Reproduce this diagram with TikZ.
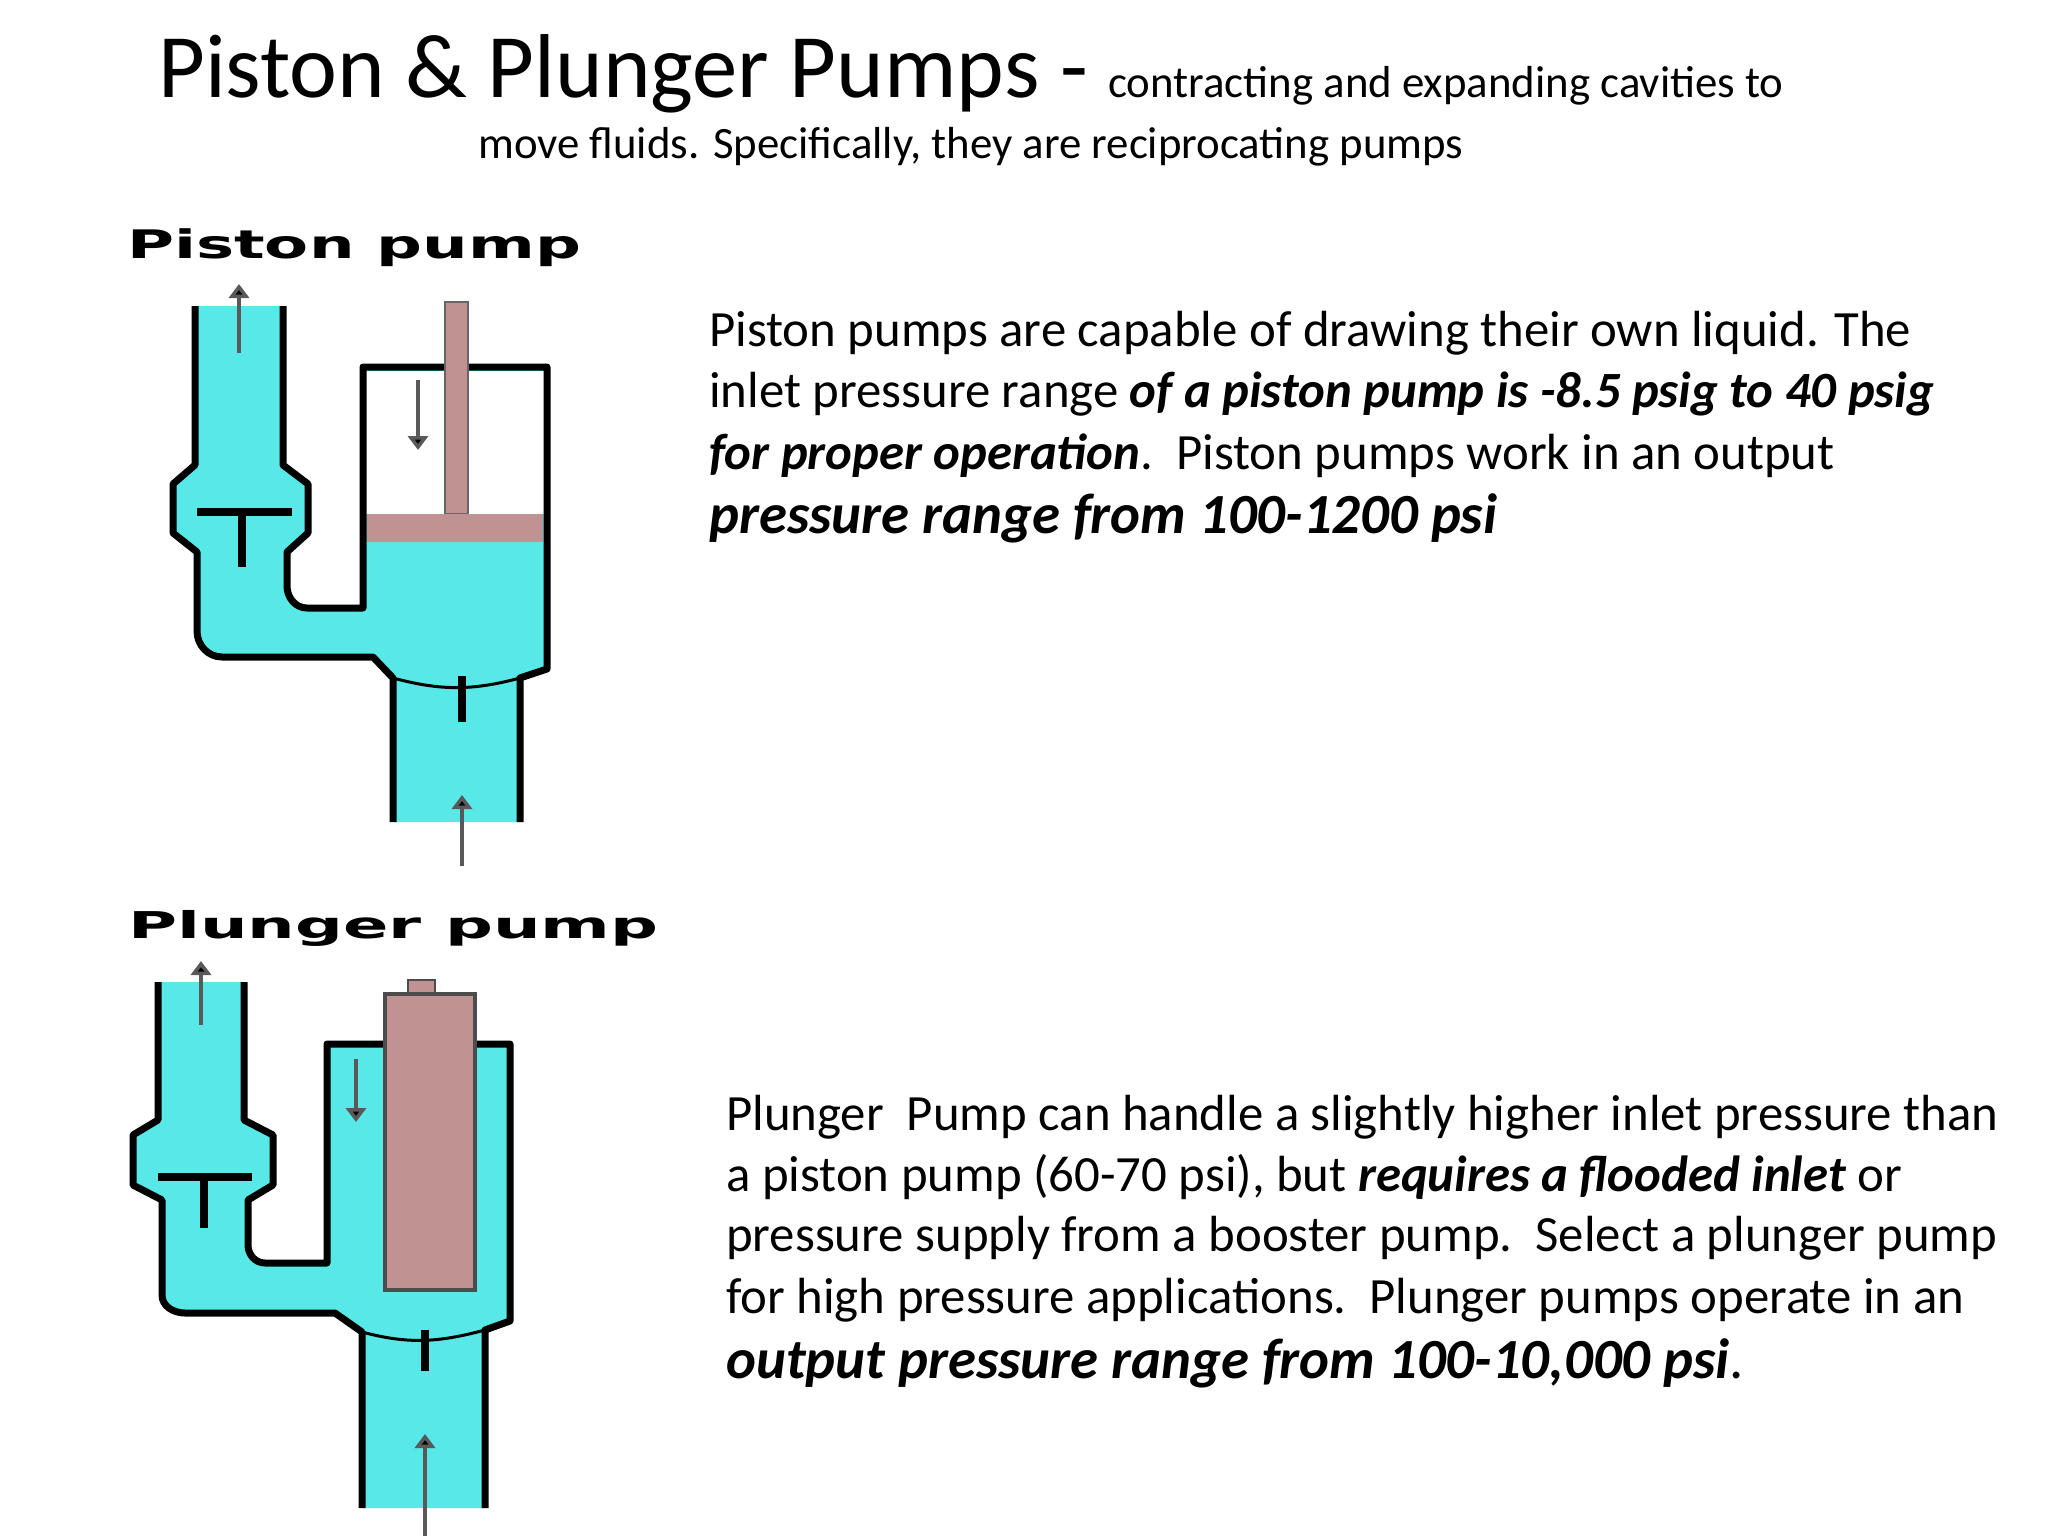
\documentclass[tikz,border=0pt]{standalone}
\usepackage{fontspec}
\setmainfont{Carlito}
\newfontfamily\lblfont{DejaVu Sans}
\usetikzlibrary{arrows.meta}
\definecolor{fluid}{RGB}{88,232,232}
\definecolor{rodc}{RGB}{192,146,146}
\tikzset{
  wall/.style={line width=7bp,line join=round,black},
  valve/.style={line width=8bp,black},
  flow/.style={line width=3.5bp,draw=black!65,-{Triangle[length=14bp,width=20bp,fill=black]}},
  txt/.style={anchor=base west,inner sep=0pt},
  pumplbl/.style={anchor=north west,inner sep=0pt}
}
\begin{document}
\begin{tikzpicture}[x=1bp,y=-1bp]
\useasboundingbox (0,0) rectangle (2048,1536);
% ---------- titles
\node[txt] (t1) at (158,98) {\fontsize{91}{100}\selectfont Piston \& Plunger Pumps - \fontsize{45}{52}\selectfont contracting and expanding cavities to};
\node[txt] (t2) at (478,159) {\fontsize{45}{52}\selectfont move fluids. Specifically, they are reciprocating pumps};
% ---------- piston pump
\node[pumplbl] (l1) at (127,228) {\resizebox*{454bp}{38bp}{\lblfont\bfseries Piston pump}};
\fill[fluid] (195,306) -- (195,465) -- (173,484) -- (173,533) -- (197,552) -- (197,631)
  to[out=-90,in=180] (222,657) -- (373,657) -- (393,678) -- (393,822) -- (520,822) -- (520,678)
  -- (547,669) -- (547,367) -- (363,367) -- (363,608) -- (307,608) to[out=180,in=-90] (287,586)
  -- (287,552) -- (308,533) -- (308,484) -- (283,465) -- (283,306) -- cycle;
\fill[white] (366,371) rectangle (544,514);
\draw[wall] (195,306) -- (195,465) -- (173,484) -- (173,533) -- (197,552) -- (197,631)
  to[out=-90,in=180] (222,657) -- (373,657) -- (393,678) -- (393,822);
\draw[wall] (283,306) -- (283,465) -- (308,484) -- (308,533) -- (287,552) -- (287,586)
  to[out=-90,in=180] (307,608) -- (363,608) -- (363,367) -- (547,367) -- (547,669) -- (520,678) -- (520,822);
\draw[line width=3bp] (393,678) to[out=-15,in=195] (520,678);
\fill[rodc,draw=black!60,line width=1.5bp] (445,302) rectangle (468,514);
\fill[rodc] (367,514) rectangle (543,542);
\draw[valve] (197,512) -- (292,512);
\draw[valve] (242,512) -- (242,567);
\draw[valve] (462,676) -- (462,722);
\draw[flow] (418,380) -- (418,450);
\draw[flow] (239,353) -- (239,284);
\draw[flow] (462,866) -- (462,795);
% ---------- plunger pump
\node[pumplbl] (l2) at (128,910) {\resizebox*{530bp}{36bp}{\lblfont\bfseries Plunger pump}};
\fill[fluid] (158,982) -- (158,1120) -- (133,1135) -- (133,1185) -- (162,1200) -- (162,1295)
  to[out=-90,in=180] (185,1313) -- (335,1313) -- (362,1332) -- (362,1508) -- (485,1508) -- (485,1330)
  -- (510,1321) -- (510,1044) -- (327,1044) -- (327,1263) -- (265,1263) to[out=180,in=-90] (248,1245)
  -- (248,1200) -- (273,1185) -- (273,1135) -- (244,1120) -- (244,982) -- cycle;
\draw[wall] (158,982) -- (158,1120) -- (133,1135) -- (133,1185) -- (162,1200) -- (162,1295)
  to[out=-90,in=180] (185,1313) -- (335,1313) -- (362,1332) -- (362,1508);
\draw[wall] (244,982) -- (244,1120) -- (273,1135) -- (273,1185) -- (248,1200) -- (248,1245)
  to[out=-90,in=180] (265,1263) -- (327,1263) -- (327,1044) -- (510,1044) -- (510,1321) -- (485,1330) -- (485,1508);
\draw[line width=3bp] (362,1332) to[out=-15,in=195] (485,1330);
\fill[rodc,draw=black!70,line width=2bp] (408,980) rectangle (435,994);
\fill[rodc,draw=black!70,line width=4bp] (385,994) rectangle (475,1290);
\draw[valve] (158,1177) -- (252,1177);
\draw[valve] (204,1177) -- (204,1228);
\draw[valve] (425,1330) -- (425,1371);
\draw[flow] (356,1059) -- (356,1122);
\draw[flow] (201,1025) -- (201,961);
\draw[flow] (425,1536) -- (425,1434);
% ---------- body text
\node[txt] (a1) at (709,346) {\fontsize{51}{58}\selectfont Piston pumps are capable of drawing their own liquid. The};
\node[txt] (a2) at (709,407) {\fontsize{51}{58}\selectfont inlet pressure range \textbf{\textit{of a piston pump is -8.5 psig to 40 psig}}};
\node[txt] (a3) at (709,469) {\fontsize{51}{58}\selectfont \textbf{\textit{for proper operation}}.\ \ Piston pumps work in an output};
\node[txt] (a4) at (709,533) {\fontsize{57}{64}\selectfont \textbf{\textit{pressure range from 100-1200 psi}}};
\node[txt] (b1) at (726,1130) {\fontsize{51}{58}\selectfont Plunger\ \ Pump can handle a slightly higher inlet pressure than};
\node[txt] (b2) at (726,1191) {\fontsize{51}{58}\selectfont a piston pump (60-70 psi), but \textbf{\textit{requires a flooded inlet}} or};
\node[txt] (b3) at (726,1251) {\fontsize{51}{58}\selectfont pressure supply from a booster pump.\ \ Select a plunger pump};
\node[txt] (b4) at (726,1313) {\fontsize{51}{58}\selectfont for high pressure applications.\ \ Plunger pumps operate in an};
\node[txt] (b5) at (726,1378) {\fontsize{57}{64}\selectfont \textbf{\textit{output pressure range from 100-10,000 psi}}.};
\end{tikzpicture}
\end{document}
